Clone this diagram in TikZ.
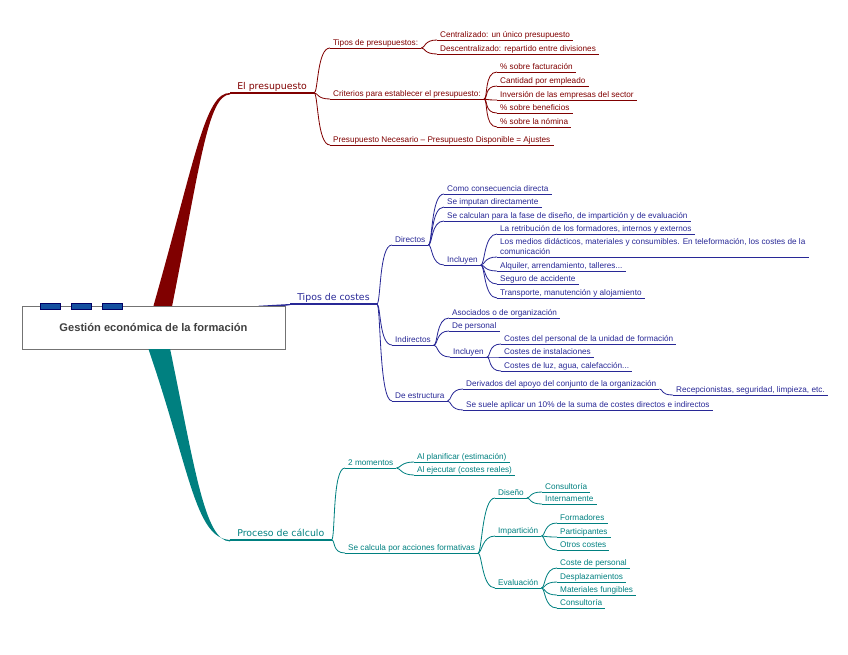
\documentclass[tikz,border=0pt]{standalone}
\usepackage{fontspec}
\setmainfont{Liberation Sans}
\newfontfamily\branchfont{DejaVu Sans}
\definecolor{budget}{RGB}{128,0,0}
\definecolor{costs}{RGB}{40,40,150}
\definecolor{process}{RGB}{0,128,128}
\definecolor{tabblue}{RGB}{20,80,160}
\begin{document}
\begin{tikzpicture}[x=0.03cm, y=-0.03cm,
  item/.style={anchor=south west, inner xsep=2.5pt, inner ysep=0.3pt, text depth=2pt,
    font=\fontsize{7}{8.5}\selectfont, text=#1,
    append after command={(\tikzlastnode.south west) edge[draw=#1, line width=0.7pt] (\tikzlastnode.south east)}},
  lvl/.style={anchor=south west, inner xsep=6pt, inner ysep=0.3pt, text depth=2.2pt,
    font=\branchfont\fontsize{8}{9.6}\selectfont, text=#1,
    append after command={(\tikzlastnode.south west) edge[draw=#1, line width=1pt] (\tikzlastnode.south east)}},
  conn/.style={line width=0.7pt, to path={.. controls +(4,0) and +(-13,0) .. (\tikztotarget)}},
  tab/.style={draw=blue!40!black, fill=tabblue, minimum width=0.6cm, minimum height=0.19cm, inner sep=0pt},
]
\useasboundingbox (0,0) rectangle (848,655);

\node[draw=black!55, fill=white, minimum width=7.89cm, minimum height=1.29cm, inner sep=0pt,
  font=\bfseries\fontsize{9.5}{11}\selectfont, text=black!75] (root) at (153.5,327.5) {Gestión económica de la formación};
\foreach \i/\x in {1/50,2/81,3/112} \node[tab] (t\i) at (\x,306) {};

\node[lvl=budget] (pres) at (230,93) {El presupuesto};
\node[lvl=costs] (costes) at (290,304) {Tipos de costes};
\node[lvl=process] (proceso) at (230,540) {Proceso de cálculo};

\fill[budget] (root.north) .. controls (195,160) and (205,92) .. (pres.south west)
  -- ([yshift=-1.2pt]pres.south west) .. controls (208,95) and (200,165) .. ([xshift=0.56cm]root.north) -- cycle;
\fill[costs] ([xshift=-0.8cm]root.north east) .. controls (275,305) .. (costes.south west)
  -- ([yshift=-1pt]costes.south west) -- (root.north east) -- cycle;
\fill[process] ([xshift=-0.15cm]root.south) .. controls (190,470) and (195,538) .. (proceso.south west)
  -- ([yshift=-1.2pt]proceso.south west) .. controls (205,541) and (195,470) .. ([xshift=0.5cm]root.south) -- cycle;

% el presupuesto
\node[item=budget] (tipos) at (330,48) {Tipos de presupuestos:};
\node[item=budget] (crit) at (330,99) {Criterios para establecer el presupuesto:};
\node[item=budget] (necesario) at (330,145) {Presupuesto Necesario – Presupuesto Disponible = Ajustes};
\node[item=budget] (central) at (437,40) {Centralizado: un único presupuesto};
\node[item=budget] (descentral) at (437,54) {Descentralizado: repartido entre divisiones};
\node[item=budget] (factur) at (497,72) {\% sobre facturación};
\node[item=budget] (cantidad) at (497,86) {Cantidad por empleado};
\node[item=budget] (inversion) at (497,100) {Inversión de las empresas del sector};
\node[item=budget] (benef) at (497,113) {\% sobre beneficios};
\node[item=budget] (nomina) at (497,127) {\% sobre la nómina};

\foreach \c in {tipos,crit,necesario} \draw[budget,conn] (pres.south east) to (\c.south west);
\foreach \c in {central,descentral} \draw[budget,conn] (tipos.south east) to (\c.south west);
\foreach \c in {factur,cantidad,inversion,benef,nomina} \draw[budget,conn] (crit.south east) to (\c.south west);

% tipos de costes
\node[item=costs] (directos) at (392,245) {Directos};
\node[item=costs] (indirectos) at (392,345) {Indirectos};
\node[item=costs] (estructura) at (392,401) {De estructura};
\node[item=costs] (consec) at (444,194) {Como consecuencia directa};
\node[item=costs] (imputan) at (444,207) {Se imputan directamente};
\node[item=costs] (calculan) at (444,221) {Se calculan para la fase de diseño, de impartición y de evaluación};
\node[item=costs] (incl1) at (444,265) {Incluyen};
\node[item=costs] (retrib) at (497,234) {La retribución de los formadores, internos y externos};
\node[item=costs] (medios) at (497,257) {\begin{tabular}[b]{@{}l@{}}Los medios didácticos, materiales y consumibles. En teleformación, los costes de la\\ comunicación\end{tabular}};
\node[item=costs] (alquiler) at (497,271) {Alquiler, arrendamiento, talleres...};
\node[item=costs] (seguro) at (497,284) {Seguro de accidente};
\node[item=costs] (transp) at (497,298) {Transporte, manutención y alojamiento};
\node[item=costs] (asoc) at (449,318) {Asociados o de organización};
\node[item=costs] (personal) at (449,331) {De personal};
\node[item=costs] (incl2) at (450,357) {Incluyen};
\node[item=costs] (unidad) at (501,344) {Costes del personal de la unidad de formación};
\node[item=costs] (instal) at (501,357) {Costes de instalaciones};
\node[item=costs] (luz) at (501,371) {Costes de luz, agua, calefacción...};
\node[item=costs] (deriv) at (463,389) {Derivados del apoyo del conjunto de la organización};
\node[item=costs] (recep) at (673,395) {Recepcionistas, seguridad, limpieza, etc.};
\node[item=costs] (suele) at (463,410) {Se suele aplicar un 10\% de la suma de costes directos e indirectos};

\foreach \c in {directos,indirectos,estructura} \draw[costs,conn] (costes.south east) to (\c.south west);
\foreach \c in {consec,imputan,calculan,incl1} \draw[costs,conn] (directos.south east) to (\c.south west);
\foreach \c in {retrib,medios,alquiler,seguro,transp} \draw[costs,conn] (incl1.south east) to (\c.south west);
\foreach \c in {asoc,personal,incl2} \draw[costs,conn] (indirectos.south east) to (\c.south west);
\foreach \c in {unidad,instal,luz} \draw[costs,conn] (incl2.south east) to (\c.south west);
\foreach \c in {deriv,suele} \draw[costs,conn] (estructura.south east) to (\c.south west);
\draw[costs,conn] (deriv.south east) to (recep.south west);

% proceso de calculo
\node[item=process] (momentos) at (345,468) {2 momentos};
\node[item=process] (calcula) at (345,553) {Se calcula por acciones formativas};
\node[item=process] (planif) at (414,462) {Al planificar (estimación)};
\node[item=process] (ejec) at (414,475) {Al ejecutar (costes reales)};
\node[item=process] (diseno) at (495,498) {Diseño};
\node[item=process] (impart) at (495,536) {Impartición};
\node[item=process] (evalua) at (495,588) {Evaluación};
\node[item=process] (consult1) at (542,492) {Consultoría};
\node[item=process] (interna) at (542,504) {Internamente};
\node[item=process] (formad) at (557,523) {Formadores};
\node[item=process] (partic) at (557,537) {Participantes};
\node[item=process] (otros) at (557,550) {Otros costes};
\node[item=process] (costepers) at (557,568) {Coste de personal};
\node[item=process] (desplaz) at (557,582) {Desplazamientos};
\node[item=process] (fungib) at (557,595) {Materiales fungibles};
\node[item=process] (consult2) at (557,608) {Consultoría};

\foreach \c in {momentos,calcula} \draw[process,conn] (proceso.south east) to (\c.south west);
\foreach \c in {planif,ejec} \draw[process,conn] (momentos.south east) to (\c.south west);
\foreach \c in {diseno,impart,evalua} \draw[process,conn] (calcula.south east) to (\c.south west);
\foreach \c in {consult1,interna} \draw[process,conn] (diseno.south east) to (\c.south west);
\foreach \c in {formad,partic,otros} \draw[process,conn] (impart.south east) to (\c.south west);
\foreach \c in {costepers,desplaz,fungib,consult2} \draw[process,conn] (evalua.south east) to (\c.south west);

\end{tikzpicture}
\end{document}
